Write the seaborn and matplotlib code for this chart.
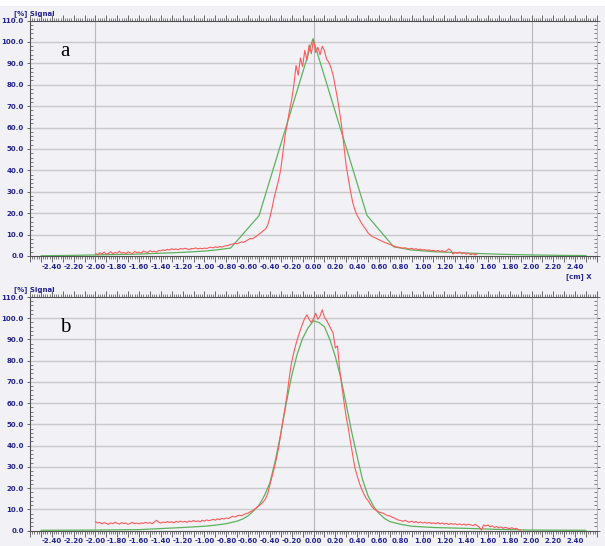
import numpy as np
import pandas as pd
import matplotlib
matplotlib.use("Agg")
import matplotlib.pyplot as plt
import seaborn as sns
from matplotlib.ticker import MultipleLocator, FuncFormatter

# ---------------- data ----------------
red_a_start, red_step = -2.00, 0.02
red_a = [
    1.2, 0.6, 1.5, 1.0, 1.8, 0.9, 1.3, 2.0, 1.1, 1.6,
    1.4, 2.2, 1.3, 1.7, 1.2, 1.9, 1.5, 1.1, 2.1, 1.6,
    1.8, 1.4, 2.3, 1.9, 1.6, 2.5, 2.0, 2.2, 1.8, 2.6,
    2.4, 2.9, 2.6, 3.1, 2.8, 3.4, 3.0, 3.3, 2.9, 3.5,
    3.2, 3.6, 3.3, 3.0, 3.5, 3.4, 3.8, 3.3, 3.6, 3.4,
    3.7, 3.5, 3.9, 4.1, 3.8, 4.3, 4.0, 4.4, 4.2, 4.6,
    4.8, 5.0, 5.4, 5.6, 5.9, 5.7, 6.2, 6.6, 6.4, 7.0,
    7.6, 8.2, 8.0, 8.7, 9.4, 10.2, 10.9, 11.8, 12.6, 14.4,
    18.0, 22.5, 27.5, 31.5, 35.5, 40.5, 48.5, 56.5, 62.0, 68.0,
    73.0, 80.0, 89.0, 84.5, 92.5, 88.5, 96.0, 91.5, 98.6, 94.5,
    101.0, 95.0, 97.5, 94.0, 98.0, 96.0, 92.0, 90.5, 88.0, 84.5,
    79.0, 73.5, 67.0, 60.0, 51.0, 42.0, 36.0, 30.0, 25.0, 21.5,
    19.0, 17.2, 15.4, 13.8, 12.4, 10.8, 9.9, 9.0, 8.6, 8.1,
    7.6, 7.1, 6.6, 6.2, 5.8, 5.4, 5.0, 4.6, 4.3, 4.1,
    3.9, 3.6, 3.9, 3.4, 3.3, 3.6, 3.1, 3.4, 2.9, 3.2,
    2.8, 3.0, 2.6, 2.9, 2.4, 2.7, 2.2, 2.6, 2.1, 2.5,
    2.0, 2.4, 3.3, 2.6, 0.9, 1.7, 1.2, 1.9, 1.0, 1.6,
    0.8, 1.3, 0.6, 1.1, 0.5, 0.9,
]
green_a_x = [-2.50, -2.20, -2.00, -1.80, -1.60, -1.40, -1.20, -1.00, -0.90, -0.76,
             -0.50, -0.005, 0.49, 0.735, 0.90, 1.10, 1.35, 1.60, 1.80, 2.00, 2.25, 2.50]
green_a_y = [0.1, 0.3, 0.5, 0.7, 0.9, 1.3, 1.7, 2.3, 2.8, 3.7,
             18.8, 101.5, 19.0, 4.3, 2.8, 2.0, 1.5, 1.0, 0.7, 0.5, 0.3, 0.2]

red_b_start = -2.00
red_b = [
    4.3, 3.6, 3.9, 3.2, 3.8, 3.4, 3.0, 3.7, 3.3, 4.0,
    3.5, 3.1, 3.8, 3.4, 3.6, 3.0, 3.5, 3.9, 3.3, 3.6,
    3.2, 3.7, 3.4, 3.9, 3.5, 3.8, 3.3, 4.1, 4.9, 4.0,
    3.6, 4.1, 3.8, 4.3, 3.9, 4.2, 3.7, 4.4, 4.0, 4.5,
    4.1, 4.4, 3.9, 4.6, 4.2, 4.8, 4.3, 4.6, 4.2, 4.9,
    4.5, 5.1, 4.7, 5.0, 5.4, 4.9, 5.6, 5.2, 5.8, 5.5,
    6.0, 5.7, 6.3, 6.8, 6.4, 7.0, 7.3, 7.0, 7.6, 8.0,
    8.3, 8.9, 9.4, 10.2, 10.9, 11.8, 12.6, 13.6, 15.0, 17.5,
    21.5, 25.5, 29.5, 34.0, 39.0, 45.5, 52.0, 58.0, 65.0, 73.0,
    79.5, 84.0, 88.0, 91.5, 94.5, 97.5, 100.0, 101.6, 99.5, 98.0,
    99.8, 102.4, 99.5, 101.0, 104.0, 100.5, 99.0, 97.0, 95.0, 93.0,
    86.0, 87.0, 76.0, 68.0, 60.5, 53.5, 48.0, 41.5, 35.5, 29.5,
    26.0, 22.5, 19.8, 17.5, 15.5, 14.2, 12.5, 11.0, 10.0, 9.3,
    8.8, 8.5, 8.2, 7.6, 7.1, 7.0, 6.4, 6.0, 5.4, 5.0,
    4.8, 4.4, 4.9, 4.3, 4.0, 4.5, 3.9, 4.3, 3.7, 4.1,
    3.6, 4.0, 3.5, 3.9, 3.4, 3.7, 3.3, 3.8, 3.2, 3.6,
    3.1, 3.5, 2.9, 3.4, 3.0, 3.3, 2.8, 3.2, 2.7, 3.1,
    2.6, 3.0, 2.8, 2.4, 2.9, 2.5, 1.6, 0.3, 2.7, 2.2,
    2.7, 1.8, 2.3, 1.5, 2.0, 1.3, 1.8, 1.1, 1.6, 1.2,
    1.0, 1.4, 0.8, 1.1, 0.5, 0.3,
]
green_b_x = [-2.50, -2.00, -1.60, -1.40, -1.20, -1.00, -0.90, -0.80, -0.70, -0.65,
             -0.60, -0.55, -0.50, -0.45, -0.40, -0.35, -0.30, -0.25, -0.20, -0.15,
             -0.10, -0.05, 0.00, 0.05, 0.10, 0.15, 0.20, 0.25, 0.30, 0.35,
             0.40, 0.45, 0.50, 0.55, 0.60, 0.65, 0.70, 0.80, 0.90, 1.10,
             1.40, 1.70, 2.00, 2.50]
green_b_y = [0.2, 0.3, 0.5, 1.0, 1.5, 2.1, 2.6, 3.3, 4.5, 5.5,
             7.0, 9.3, 12.0, 16.5, 22.5, 33.0, 45.8, 60.0, 73.0, 83.0,
             90.5, 95.5, 98.8, 98.0, 96.0, 90.0, 82.0, 72.0, 59.5, 46.5,
             35.0, 24.0, 16.5, 11.5, 8.2, 5.8, 4.3, 3.0, 2.1, 1.5,
             1.1, 0.6, 0.3, 0.2]

panel_labels = ["a", "b"]
y_label = "[%] Signal"
x_label = "[cm] X"

# ---------------- style ----------------
sns.set_theme(style="white")
plt.rcParams['font.family'] = ['DejaVu Sans']

W, H = 605, 546
BG = "#f1f1f6"
TXT = "#23238e"
RED = "#ff5a5a"
GREEN = "#5db35d"

fig = plt.figure(figsize=(W / 100, H / 100), dpi=100, facecolor=BG)
fig.patches.append(plt.Rectangle((0, 1 - 6 / H), 1, 6 / H, transform=fig.transFigure,
                                 facecolor="white", edgecolor="none", zorder=-1))


def px_axes(left, top, right, bottom):
    return fig.add_axes([left / W, 1 - bottom / H, (right - left) / W, (bottom - top) / H])


panels = [
    dict(top=20.5, bottom=256.0, rs=red_a_start, ry=red_a, gx=green_a_x, gy=green_a_y, xl=True),
    dict(top=297.0, bottom=530.7, rs=red_b_start, ry=red_b, gx=green_b_x, gy=green_b_y, xl=False),
]

for i, p in enumerate(panels):
    ax = px_axes(30, p["top"], 597, p["bottom"])
    ax.set_facecolor(BG)
    rx = [round(p["rs"] + k * red_step, 2) for k in range(len(p["ry"]))]
    dr = pd.DataFrame({"x": rx, "y": p["ry"]})
    dg = pd.DataFrame({"x": p["gx"], "y": p["gy"]})
    sns.lineplot(data=dg, x="x", y="y", ax=ax, color=GREEN, linewidth=0.9,
                 estimator=None, sort=False, zorder=3)
    sns.lineplot(data=dr, x="x", y="y", ax=ax, color=RED, linewidth=0.8,
                 estimator=None, sort=False, zorder=4)
    ax.set_xlim(-2.6, 2.6)
    ax.set_ylim(0, 110)
    ax.set_xlabel("")
    ax.set_ylabel("")
    for v in range(10, 110, 10):
        ax.axhline(v, color="#c9c9cc", linewidth=1.0, zorder=1)
    for v in (-2.0, 0.0, 2.0):
        ax.axvline(v, color="#b8b8bc", linewidth=0.8, zorder=1)

    ax.xaxis.set_major_locator(MultipleLocator(0.1))
    ax.xaxis.set_minor_locator(MultipleLocator(0.02))

    def xfmt(v, pos):
        k = int(round(v * 10))
        if k % 2 != 0 or abs(v) > 2.45:
            return ""
        return f"{v:.2f}"
    ax.xaxis.set_major_formatter(FuncFormatter(xfmt))
    ax.yaxis.set_major_locator(MultipleLocator(10))
    ax.yaxis.set_minor_locator(MultipleLocator(2))
    ax.yaxis.set_major_formatter(FuncFormatter(lambda v, pos: f"{v:.1f}"))

    ax.tick_params(axis="x", which="major", direction="out", length=4, width=0.6,
                   color="#505050", labelsize=5, labelcolor=TXT, top=True, bottom=True, pad=1.5)
    ax.tick_params(axis="x", which="minor", direction="out", length=2.2, width=0.5,
                   color="#505050", top=True, bottom=True)
    ax.tick_params(axis="y", which="major", direction="inout", length=5, width=0.6,
                   color="#505050", labelsize=5, labelcolor=TXT, left=True, right=True, pad=2)
    ax.tick_params(axis="y", which="minor", direction="in", length=2.5, width=0.5,
                   color="#505050", left=True, right=True)
    for lab in ax.get_xticklabels() + ax.get_yticklabels():
        lab.set_fontweight("bold")
    for s in ("left", "bottom", "top"):
        ax.spines[s].set_color("#505050")
        ax.spines[s].set_linewidth(0.8)
    ax.spines["right"].set_color("#b0b0b4")
    ax.spines["right"].set_linewidth(0.6)

    ax.text(0.053, 0.87, panel_labels[i], transform=ax.transAxes, fontsize=15,
            family=["Liberation Serif", "DejaVu Serif"], color="black", va="center", ha="left")
    fig.text(14 / W, 1 - (p["top"] - 7) / H, y_label, fontsize=5, fontweight="bold",
             color=TXT, ha="left", va="center")
    if p["xl"]:
        fig.text(566 / W, 1 - 276.5 / H, x_label, fontsize=5, fontweight="bold",
                 color=TXT, ha="left", va="center")

fig.savefig("out.png", dpi=100, facecolor=fig.get_facecolor())
